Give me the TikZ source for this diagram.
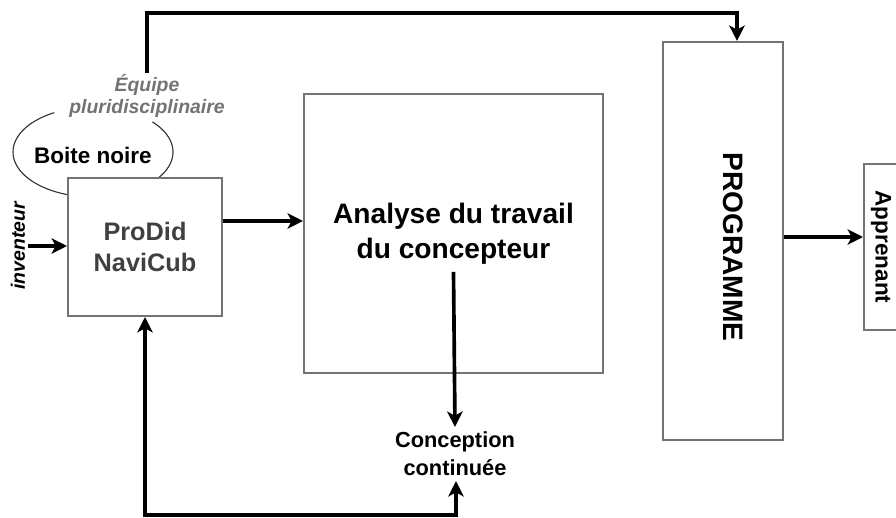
\documentclass[tikz,border=0pt]{standalone}
\usepackage{fontspec}
\setmainfont{Liberation Sans}
\usetikzlibrary{arrows.meta,positioning,calc}

\begin{document}
\begin{tikzpicture}[
    x=0.025cm, y=-0.025cm,
    box/.style={draw=black!55, line width=1.4pt, inner sep=0pt},
    flow/.style={line width=2.6pt, -{Stealth[length=11pt,width=11pt,inset=3pt]}},
    flowboth/.style={line width=2.6pt, {Stealth[length=11pt,width=11pt,inset=3pt]}-{Stealth[length=11pt,width=11pt,inset=3pt]}},
    bigtxt/.style={font=\bfseries\fontsize{20}{25}\selectfont, align=center},
    midtxt/.style={font=\bfseries\fontsize{16}{20}\selectfont, align=center},
    smalltxt/.style={font=\bfseries\itshape\fontsize{13.8}{15.6}\selectfont, align=center},
  ]
  \clip (0,0) rectangle (896,518);

  % boite noire
  \draw[black!80, line width=0.8pt] plot[domain=241:108, samples=40, variable=\t]
    ({93+80*cos(\t)}, {152+45*sin(\t)});
  \draw[black!80, line width=0.8pt] plot[domain=-42:34, samples=20, variable=\t]
    ({93+80*cos(\t)}, {152+45*sin(\t)});
  \node[midtxt] (noire) at (93,155) {Boite noire};

  % boxes
  \node[box, minimum width=3.85cm, minimum height=3.45cm, align=center,
        text=black!75, font=\bfseries\fontsize{18}{22}\selectfont] (prodid) at (145,247) {ProDid\\NaviCub};
  \node[box, bigtxt, minimum width=7.475cm, minimum height=6.975cm] (analyse) at (453.5,233.5)
    {Analyse du travail\\du concepteur};
  \node[box, minimum width=3cm, minimum height=9.95cm] (programme) at (723,241) {};
  \node[bigtxt, rotate=-90] (progtxt) at (733,247) {PROGRAMME};
  \node[box, midtxt, minimum width=0.85cm, minimum height=4.15cm] (apprenant) at (881,247) {};
  \node[midtxt, rotate=-90] (apptxt) at (881,247) {Apprenant};

  % labels
  \node[smalltxt, text=black!55, inner sep=1pt] (equipe) at (147,96) {Équipe\\pluridisciplinaire};
  \node[smalltxt, rotate=90, inner sep=2pt] (inventeur) at (18,246) {inventeur};
  \node[midtxt, font=\bfseries\fontsize{15.5}{20}\selectfont] (conception) at (455,454) {Conception\\continuée};
  \coordinate (top) at (737,13);
  \coordinate (low) at (456,515);

  % arrows
  \draw[flow] (equipe.north) |- (top) -- (top |- programme.north);
  \draw[flow] (inventeur.south) -- (inventeur.south -| prodid.west);
  \draw[flow] ([yshift=0.65cm]prodid.east) -- ([yshift=0.65cm]prodid.east -| analyse.west);
  \draw[flow] ([yshift=-0.96cm]analyse.center) -- (conception.north);
  \draw[flow] ([yshift=0.1cm]programme.east) -- ([yshift=0.1cm]programme.east -| apprenant.west);
  \draw[flowboth] (prodid.south) -- (prodid.south |- low) -- (low) -- (low |- conception.south);
\end{tikzpicture}
\end{document}
